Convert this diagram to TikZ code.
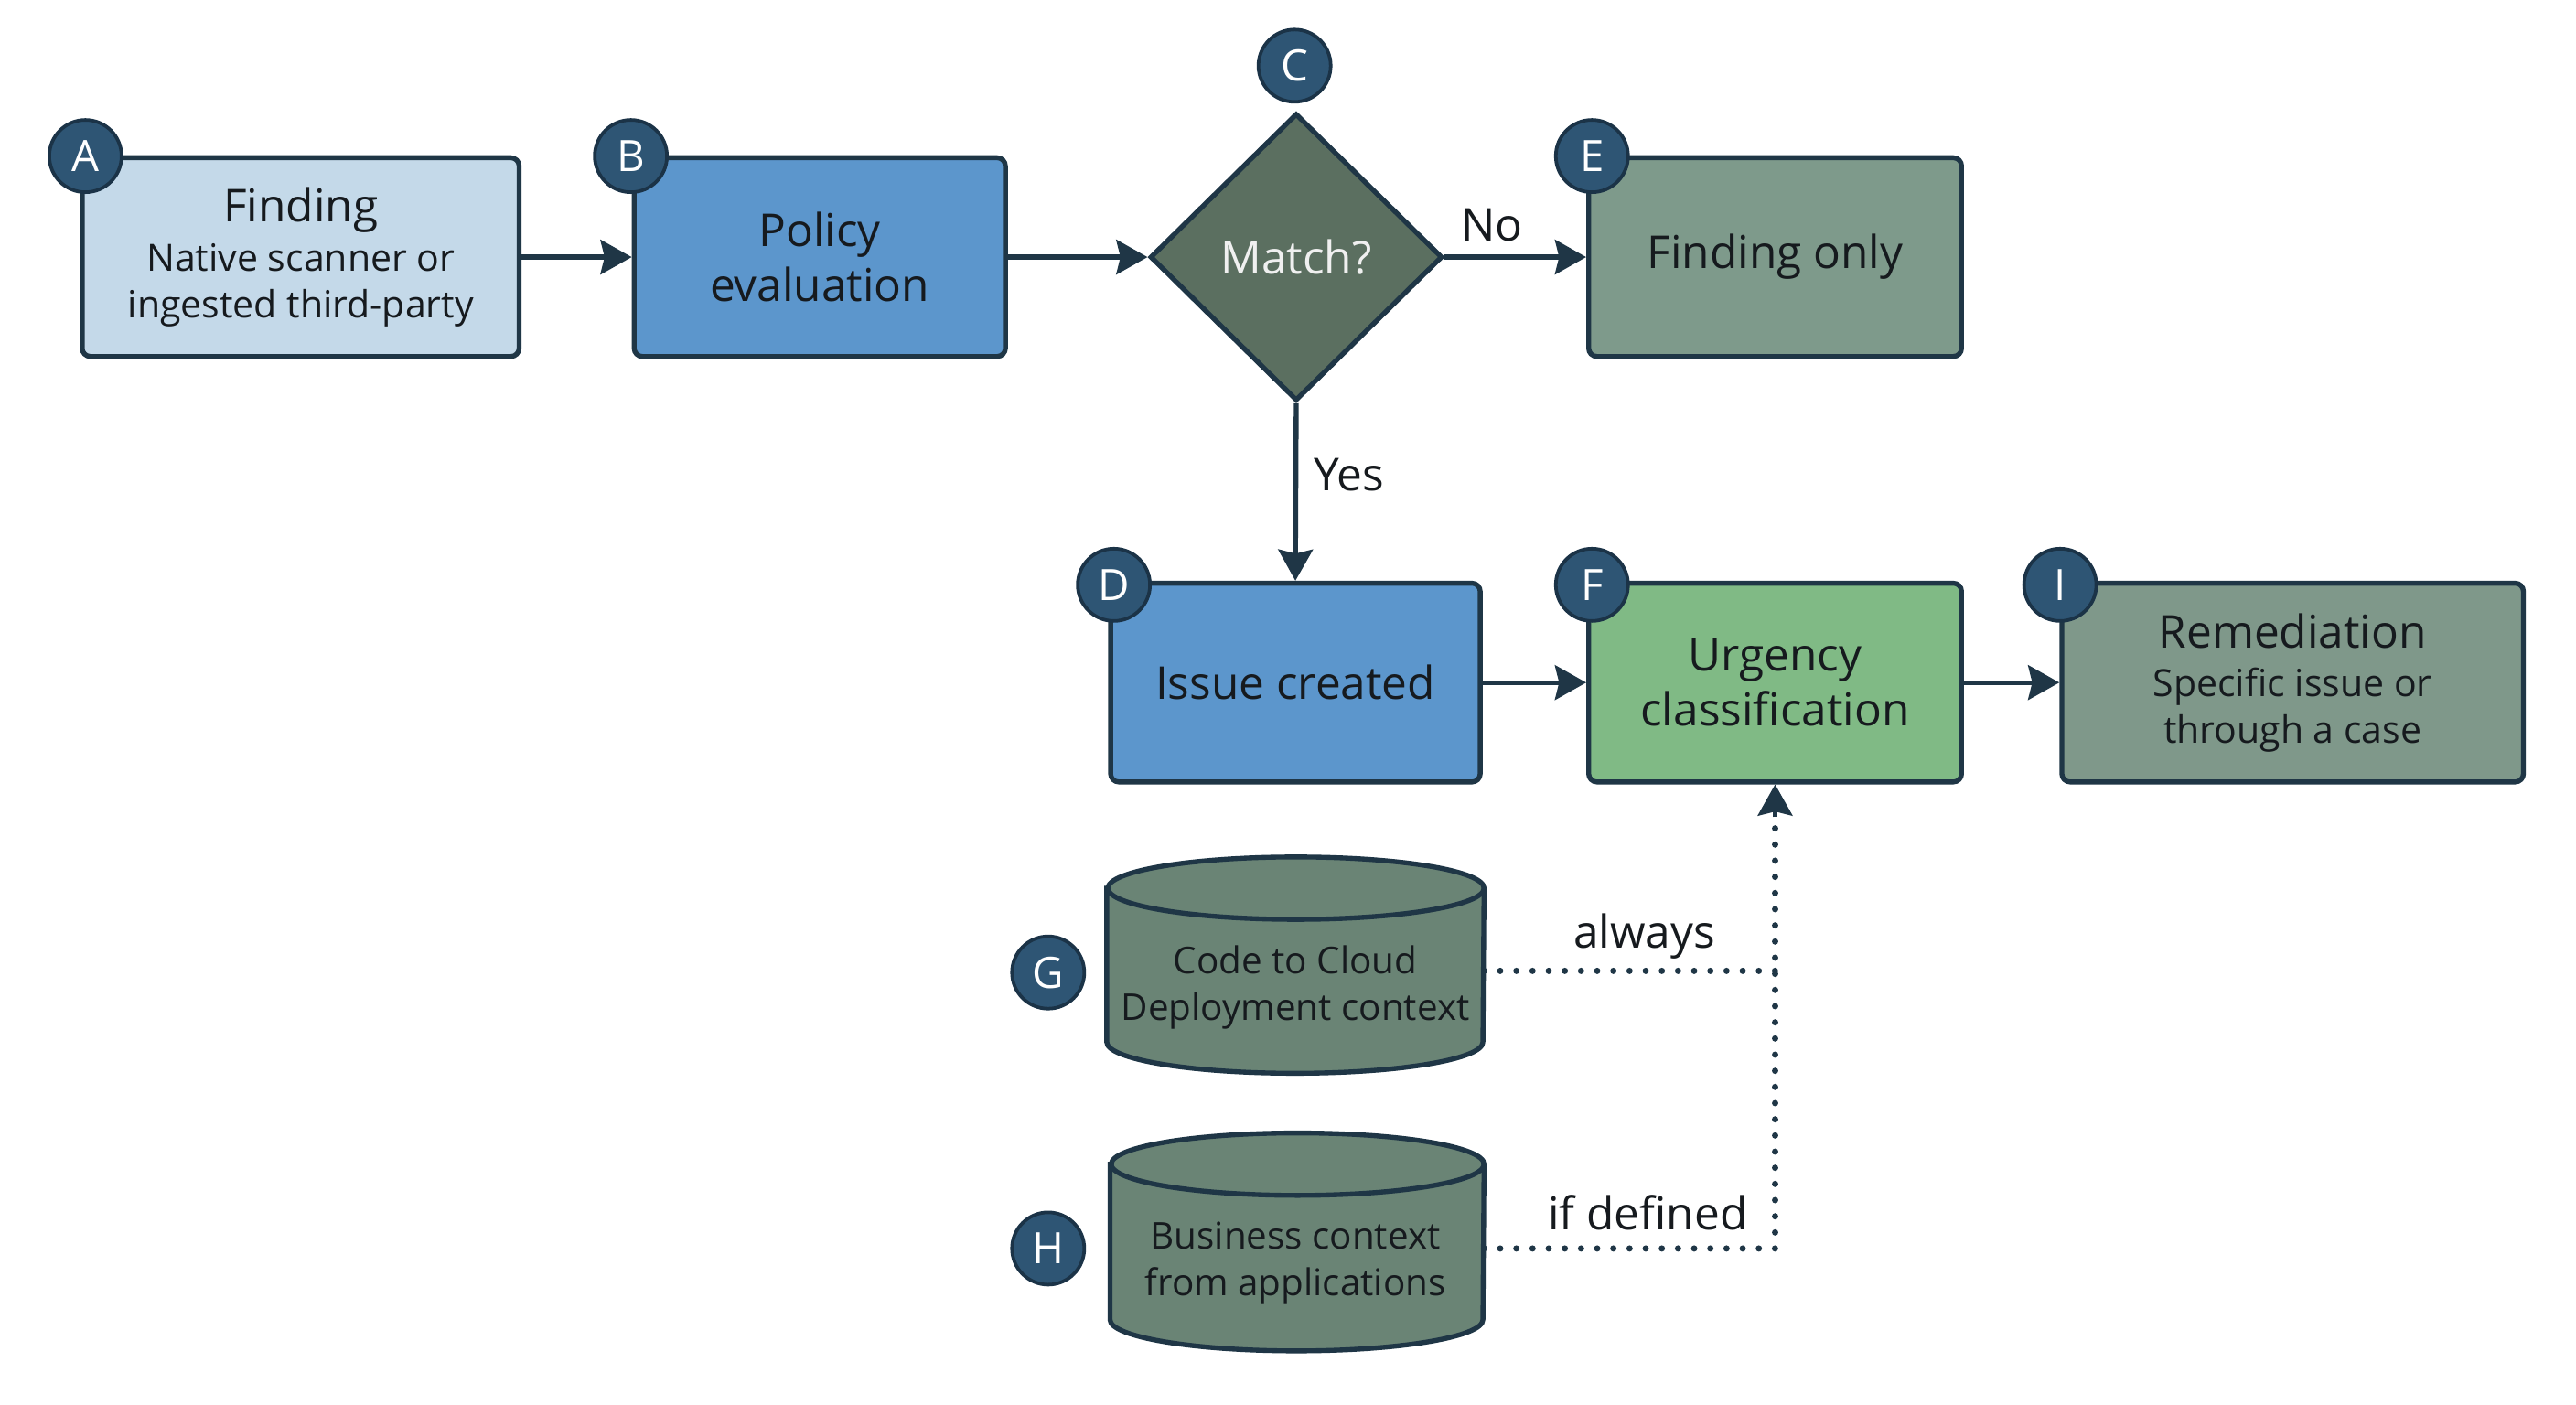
\documentclass[tikz,border=0pt]{standalone}
\usepackage{fontspec}
\setmainfont{Open Sans}
\usetikzlibrary{shapes.geometric,arrows.meta,calc}
\definecolor{outl}{HTML}{1F3646}
\definecolor{cA}{HTML}{C4D9E9}
\definecolor{cB}{HTML}{5C96CC}
\definecolor{cC}{HTML}{5B6F60}
\definecolor{cE}{HTML}{7E9A8B}
\definecolor{cF}{HTML}{80BA85}
\definecolor{cI}{HTML}{7F988A}
\definecolor{cG}{HTML}{6A8475}
\definecolor{badgefill}{HTML}{2E5574}
\definecolor{badgeline}{HTML}{1B3347}
\definecolor{txt}{HTML}{161A1E}
\newcommand{\tfnt}{\fontsize{15.7}{18.8}\selectfont}
\newcommand{\sfnt}{\fontsize{13}{16}\selectfont}
\newcommand{\cfnt}{\fontsize{12.8}{16}\selectfont}
\tikzset{
  procbox/.style={draw=outl, line width=1.7pt, rounded corners=0.1cm, minimum height=2.42cm, align=center, text=txt, inner sep=0pt},
  badge/.style={circle, draw=badgeline, line width=1.2pt, fill=badgefill, minimum size=0.88cm, inner sep=0pt, text=white, font=\fontsize{15}{16}\selectfont},
  flow/.style={draw=outl, line width=1.7pt, -{Stealth[length=0.38cm,width=0.42cm,inset=0.05cm]}},
  dotline/.style={draw=outl, line width=2.2pt, line cap=round, dash pattern=on 0pt off 5.6pt},
  lbl/.style={text=txt, font=\fontsize{15.7}{17}\selectfont, inner sep=0pt},
  dbbox/.style={inner sep=0pt},
  dbline/.style={draw=outl, line width=1.7pt, fill=cG},
  dbtext/.style={align=center, text=txt, font=\cfnt}
}
\begin{document}
\begin{tikzpicture}[x=0.02cm, y=-0.02cm]
\useasboundingbox[fill=white] (0,0) rectangle (1568,855);
% top row
\node[procbox, fill=cA, minimum width=5.32cm, font=\sfnt] (A) at (183,156.5) {{\tfnt Finding}\\[1pt]Native scanner or\\ingested third-party};
\node[procbox, fill=cB, minimum width=4.52cm, font=\tfnt] (B) at (499,156.5) {Policy\\evaluation};
\node[diamond, draw=outl, line width=1.7pt, fill=cC, minimum width=3.56cm, minimum height=3.5cm, inner sep=0pt, text=white!94!black, font=\tfnt] (C) at (789,156.5) {Match?};
\node[procbox, fill=cE, minimum width=4.54cm, font=\tfnt] (E) at (1080.5,156.5) {Finding only};
% middle row
\node[procbox, fill=cB, minimum width=4.5cm, font=\tfnt] (D) at (788.5,415.5) {Issue created};
\node[procbox, fill=cF, minimum width=4.54cm, font=\tfnt] (F) at (1080.5,415.5) {Urgency\\classification};
\node[procbox, fill=cI, minimum width=5.62cm, font=\sfnt] (I) at (1395.5,415.5) {{\tfnt Remediation}\\[1pt]Specific issue or\\through a case};
% cylinders
\node[dbbox, minimum width=4.58cm, minimum height=2.62cm] (G) at (788.5,587.5) {};
\draw[dbline] ([yshift=-0.38cm]G.north west) -- ([yshift=0.38cm]G.south west)
  arc[start angle=180, end angle=360, x radius=2.29cm, y radius=0.38cm]
  -- ([yshift=-0.38cm]G.north east)
  arc[start angle=0, end angle=180, x radius=2.29cm, y radius=0.38cm] -- cycle;
\draw[dbline, fill=none] ([yshift=-0.38cm]G.north east) arc[start angle=0, end angle=-180, x radius=2.29cm, y radius=0.38cm];
\node[dbtext] (Gt) at (788.5,601) {Code to Cloud\\Deployment context};
\node[dbbox, minimum width=4.54cm, minimum height=2.64cm] (H) at (789.5,756) {};
\draw[dbline] ([yshift=-0.38cm]H.north west) -- ([yshift=0.38cm]H.south west)
  arc[start angle=180, end angle=360, x radius=2.27cm, y radius=0.38cm]
  -- ([yshift=-0.38cm]H.north east)
  arc[start angle=0, end angle=180, x radius=2.27cm, y radius=0.38cm] -- cycle;
\draw[dbline, fill=none] ([yshift=-0.38cm]H.north east) arc[start angle=0, end angle=-180, x radius=2.27cm, y radius=0.38cm];
\node[dbtext] (Ht) at (788.5,769) {Business context\\from applications};
% badges
\node[badge] (bA) at (52,95) {A};
\node[badge] (bB) at (384,95) {B};
\node[badge] (bC) at (788,40) {C};
\node[badge] (bE) at (969,95) {E};
\node[badge] (bD) at (678,356) {D};
\node[badge] (bF) at (969,356) {F};
\node[badge] (bI) at (1254,356) {I};
\node[badge] (bG) at (638,592) {G};
\node[badge] (bH) at (638,760) {H};
% connectors
\draw[flow] (A.east) -- (B.west);
\draw[flow] (B.east) -- (C.west);
\draw[flow] (C.east) -- (E.west);
\node[lbl] (no) at (908,137) {No};
\draw[flow] (C.south) -- (D.north);
\node[lbl] (yes) at (821,289) {Yes};
\draw[flow] (D.east) -- (F.west);
\draw[flow] (F.east) -- (I.west);
\coordinate (sG) at ($(G.east)+(0,3.5)$);
\coordinate (sH) at ($(H.east)+(0,4)$);
\coordinate (jG) at (sG -| F.south);
\coordinate (jH) at (sH -| F.south);
\draw[dotline] (sG) -- (jG);
\draw[dotline] (sH) -- (jH) -- ($(F.south)+(0,18)$);
\node[lbl] (always) at (1001,570) {always};
\node[lbl] (ifdef) at (1003,738) {if defined};
\draw[outl, line width=1.7pt, -{Stealth[length=0.38cm,width=0.42cm,inset=0.05cm]}] ($(F.south)+(0,20)$) -- (F.south);
\end{tikzpicture}
\end{document}
